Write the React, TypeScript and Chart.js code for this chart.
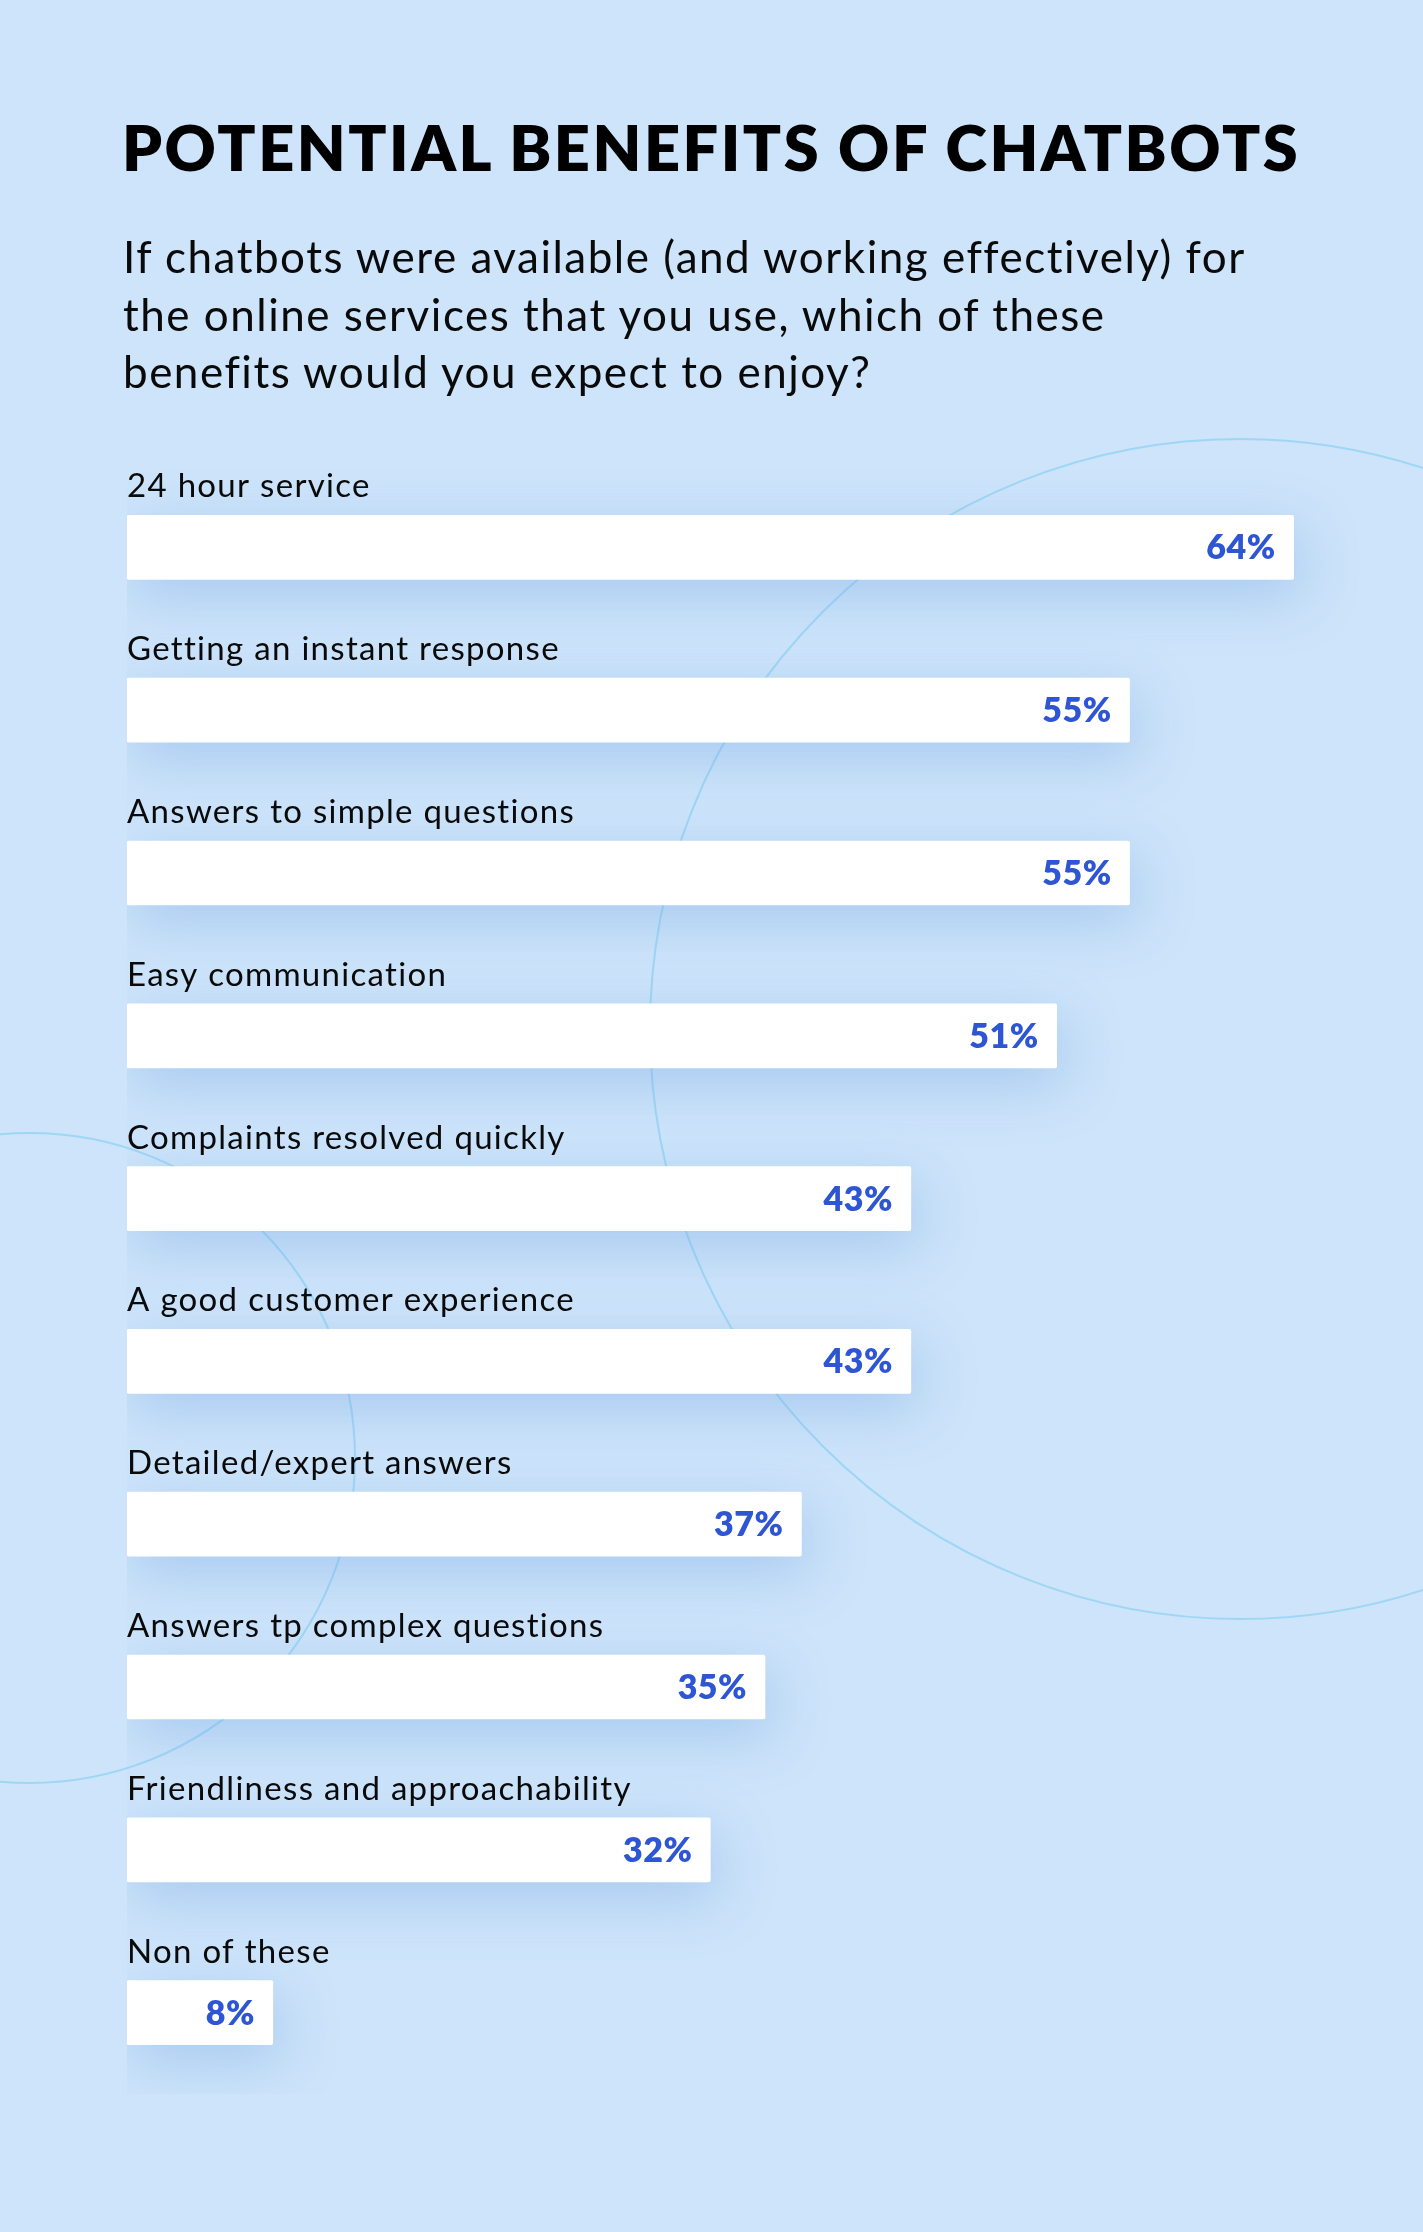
import React, { useEffect, useRef } from "react";
import { Chart, registerables } from "chart.js";

Chart.register(...registerables);

const categories = [
  "24 hour service",
  "Getting an instant response",
  "Answers to simple questions",
  "Easy communication",
  "Complaints resolved quickly",
  "A good customer experience",
  "Detailed/expert answers",
  "Answers tp complex questions",
  "Friendliness and approachability",
  "Non of these",
];
const values = [64, 55, 55, 51, 43, 43, 37, 35, 32, 8];

const title = "POTENTIAL BENEFITS OF CHATBOTS";
const subtitleLines = [
  "If chatbots were available (and working effectively) for",
  "the online services that you use, which of these",
  "benefits would you expect to enjoy?",
];

const W = 1423;
const H = 2232;
const BG = "#cde4fa";
const FONT = "Lato, 'Open Sans', sans-serif";

const bgPlugin = {
  id: "bgPlugin",
  beforeDraw(chart: any) {
    const ctx = chart.ctx;
    ctx.save();
    ctx.fillStyle = BG;
    ctx.fillRect(0, 0, chart.width, chart.height);
    ctx.strokeStyle = "rgba(150, 212, 245, 0.85)";
    ctx.lineWidth = 2;
    ctx.beginPath();
    ctx.arc(1240, 1029, 590, 0, Math.PI * 2);
    ctx.stroke();
    ctx.beginPath();
    ctx.arc(30, 1458, 325, 0, Math.PI * 2);
    ctx.stroke();
    ctx.restore();
  },
  beforeDatasetsDraw(chart: any) {
    const ctx = chart.ctx;
    ctx.save();
    ctx.shadowColor = "rgba(110, 160, 225, 0.4)";
    ctx.shadowBlur = 55;
    ctx.shadowOffsetX = 6;
    ctx.shadowOffsetY = 16;
  },
  afterDatasetsDraw(chart: any) {
    const ctx = chart.ctx;
    ctx.restore();
    const meta = chart.getDatasetMeta(0);
    ctx.save();
    meta.data.forEach((bar: any, i: number) => {
      const top = bar.y - bar.height / 2;
      ctx.fillStyle = "#0a0a0a";
      ctx.font = `400 33px ${FONT}`;
      (ctx as any).letterSpacing = "1.3px";
      ctx.textAlign = "left";
      ctx.textBaseline = "alphabetic";
      ctx.fillText(categories[i], bar.base, top - 18);
      ctx.fillStyle = "#2d55d4";
      ctx.font = `800 34px ${FONT}`;
      (ctx as any).letterSpacing = "0.5px";
      ctx.textAlign = "right";
      ctx.textBaseline = "middle";
      ctx.fillText(values[i] + "%", bar.x - 18, bar.y + 1);
    });
    (ctx as any).letterSpacing = "0px";
    ctx.restore();
  },
};

export default function App() {
  const ref = useRef<HTMLCanvasElement>(null);
  useEffect(() => {
    document.body.style.margin = "0";
    const chart = new Chart(ref.current!, {
      type: "bar",
      data: {
        labels: categories,
        datasets: [
          {
            data: values,
            backgroundColor: "#ffffff",
            borderWidth: 0,
            borderRadius: 2,
            borderSkipped: false,
            barThickness: 64,
          },
        ],
      },
      options: {
        indexAxis: "y",
        animation: false,
        responsive: false,
        devicePixelRatio: 1,
        layout: { padding: { left: 127, right: 20, top: 466, bottom: 138 } },
        scales: {
          x: { display: false, min: 0, max: 70 },
          y: { display: false, offset: true },
        },
        plugins: {
          legend: { display: false },
          tooltip: { enabled: false },
          title: { display: false },
        },
      },
      plugins: [bgPlugin],
    });
    return () => chart.destroy();
  }, []);

  return (
    <div style={{ position: "relative", width: W, height: H, overflow: "hidden", background: BG }}>
      <canvas ref={ref} width={W} height={H} style={{ position: "absolute", left: 0, top: 0, width: W, height: H }} />
      <div
        style={{
          position: "absolute",
          left: 122,
          top: 112,
          fontFamily: FONT,
          fontWeight: 800,
          fontSize: 63,
          letterSpacing: "2.5px",
          lineHeight: "70px",
          color: "#000",
          whiteSpace: "nowrap",
        }}
      >
        {title}
      </div>
      <div
        style={{
          position: "absolute",
          left: 123,
          top: 228,
          fontFamily: FONT,
          fontWeight: 400,
          fontSize: 44,
          letterSpacing: "1.5px",
          lineHeight: "57.5px",
          color: "#0a0a0a",
          whiteSpace: "nowrap",
        }}
      >
        {subtitleLines.map((l, i) => (
          <div key={i}>{l}</div>
        ))}
      </div>
    </div>
  );
}
